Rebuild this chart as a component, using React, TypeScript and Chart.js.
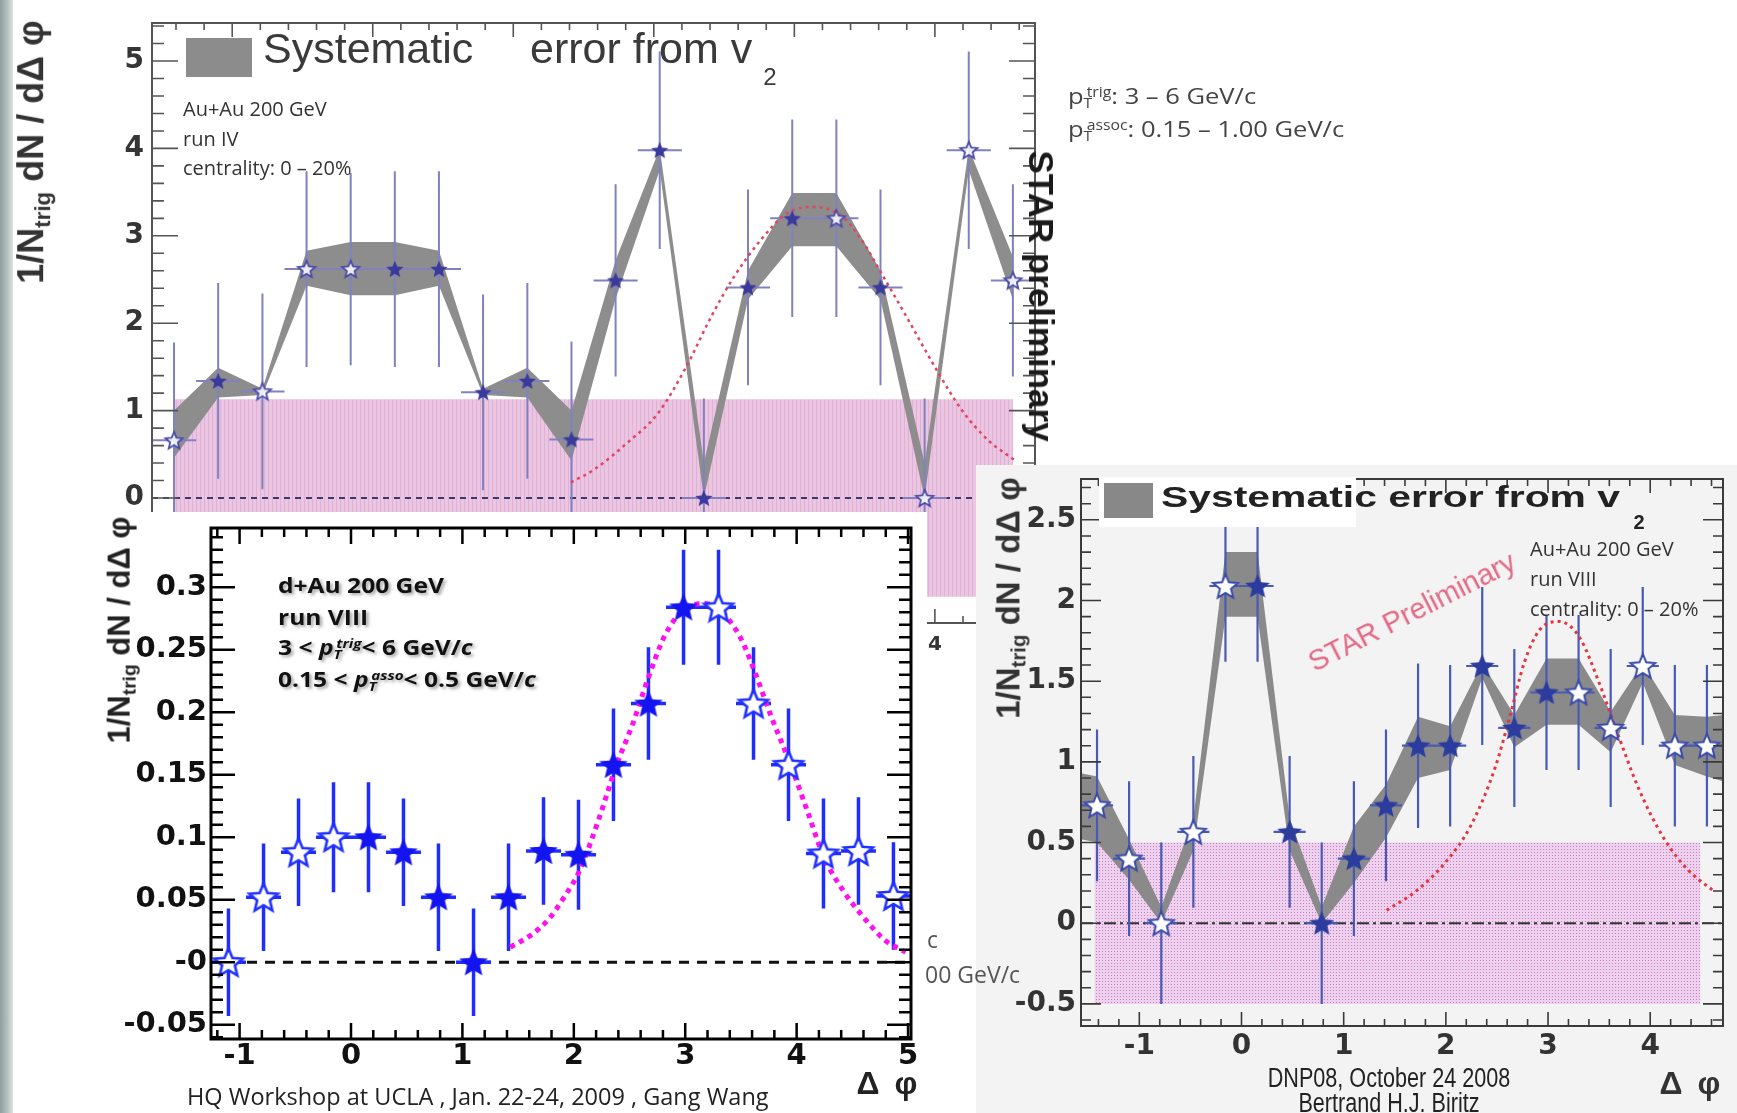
import React, { useEffect, useRef } from 'react';
import { Chart, registerables } from 'chart.js';

Chart.register(...registerables);

const PI = Math.PI;
const ARIAL = '"Liberation Sans", Arial, Helvetica, sans-serif';
const DEJAVU = '"DejaVu Sans", "Liberation Sans", sans-serif';
const OPEN = '"Open Sans", "Liberation Sans", sans-serif';

// ===== Panel 1: Au+Au 200 GeV, run IV, centrality 0-20% =====
const runIV_phi = [-1.414, -1.1, -0.785, -0.471, -0.157, 0.157, 0.471, 0.785, 1.1, 1.414, 1.728, 2.042, 2.356, 2.67, 2.985, 3.299, 3.613, 3.927, 4.241, 4.555];
const runIV_val = [0.66, 1.34, 1.22, 2.62, 2.62, 2.62, 2.62, 1.21, 1.34, 0.67, 2.49, 3.98, 0.0, 2.41, 3.2, 3.2, 2.41, 0.0, 3.98, 2.49];
const runIV_err = [1.12, 1.12, 1.12, 1.12, 1.1, 1.12, 1.12, 1.12, 1.12, 1.12, 1.1, 1.13, 1.14, 1.12, 1.13, 1.13, 1.12, 1.14, 1.13, 1.1];
const runIV_open = [1, 0, 1, 1, 1, 0, 0, 0, 0, 0, 0, 0, 0, 0, 0, 1, 0, 1, 1, 1];
const runIV_sysLo = [0.46, 1.15, 1.18, 2.43, 2.32, 2.32, 2.43, 1.18, 1.15, 0.43, 2.28, 3.75, 0.0, 2.27, 2.88, 2.88, 2.27, 0.0, 3.75, 2.27];
const runIV_sysHi = [1.0, 1.49, 1.25, 2.83, 2.93, 2.93, 2.83, 1.25, 1.49, 1.0, 2.72, 4.0, 0.4, 2.6, 3.49, 3.49, 2.6, 0.4, 4.0, 2.76];
const runIV_fitPhi = [1.41, 1.57, 1.81, 2.03, 2.23, 2.41, 2.57, 2.76, 2.95, 3.15, 3.34, 3.48, 3.62, 3.81, 4.0, 4.19, 4.38, 4.57];
const runIV_fitVal = [0.18, 0.32, 0.63, 0.97, 1.5, 2.08, 2.53, 2.95, 3.26, 3.33, 3.22, 2.95, 2.57, 2.04, 1.5, 1.01, 0.66, 0.43];
const runIV_pedPhi = [-1.414, 4.555];
const runIV_ped = [-1.13, 1.13];

// ===== Panel 2: d+Au 200 GeV, run VIII =====
const dAu_phi = [-1.1, -0.785, -0.471, -0.157, 0.157, 0.471, 0.785, 1.1, 1.414, 1.728, 2.042, 2.356, 2.67, 2.985, 3.299, 3.613, 3.927, 4.241, 4.555, 4.869];
const dAu_val = [0.0, 0.052, 0.088, 0.1, 0.1, 0.088, 0.052, 0.0, 0.052, 0.089, 0.086, 0.158, 0.207, 0.284, 0.284, 0.207, 0.158, 0.087, 0.089, 0.053];
const dAu_err = [0.043, 0.043, 0.043, 0.044, 0.044, 0.043, 0.043, 0.043, 0.043, 0.043, 0.044, 0.045, 0.045, 0.046, 0.046, 0.045, 0.045, 0.044, 0.043, 0.043];
const dAu_open = [1, 1, 1, 1, 0, 0, 0, 0, 0, 0, 0, 0, 0, 0, 1, 1, 1, 1, 1, 1];
const dAu_fitPhi = [1.43, 1.62, 1.78, 1.92, 2.05, 2.23, 2.38, 2.53, 2.67, 2.82, 3.0, 3.18, 3.32, 3.5, 3.63, 3.77, 3.95, 4.1, 4.24, 4.42, 4.6, 4.8, 4.98];
const dAu_fitVal = [0.012, 0.022, 0.035, 0.053, 0.073, 0.116, 0.157, 0.191, 0.228, 0.262, 0.283, 0.287, 0.281, 0.259, 0.231, 0.197, 0.157, 0.12, 0.085, 0.057, 0.036, 0.017, 0.008];

// ===== Panel 3: Au+Au 200 GeV, run VIII, centrality 0-20% =====
const runVIII_phi = [-1.414, -1.1, -0.785, -0.471, -0.157, 0.157, 0.471, 0.785, 1.1, 1.414, 1.728, 2.042, 2.356, 2.67, 2.985, 3.299, 3.613, 3.927, 4.241, 4.555];
const runVIII_val = [0.73, 0.4, 0.0, 0.566, 2.09, 2.09, 0.566, 0.0, 0.4, 0.73, 1.1, 1.1, 1.594, 1.21, 1.43, 1.43, 1.21, 1.594, 1.1, 1.1];
const runVIII_err = [0.47, 0.48, 0.5, 0.47, 0.47, 0.47, 0.47, 0.5, 0.48, 0.47, 0.51, 0.5, 0.49, 0.49, 0.48, 0.48, 0.49, 0.49, 0.5, 0.5];
const runVIII_open = [1, 1, 1, 1, 1, 0, 0, 0, 0, 0, 0, 0, 0, 0, 0, 1, 1, 1, 1, 1];
const runVIII_sysPhi = [-1.571, -1.414, -1.1, -0.785, -0.471, -0.157, 0.157, 0.471, 0.785, 1.1, 1.414, 1.728, 2.042, 2.356, 2.67, 2.985, 3.299, 3.613, 3.927, 4.241, 4.555, 4.712];
const runVIII_sysLo = [0.52, 0.5, 0.27, 0.0, 0.45, 1.9, 1.9, 0.45, 0.0, 0.25, 0.53, 0.9, 0.95, 1.52, 1.09, 1.23, 1.23, 1.06, 1.49, 0.98, 0.91, 0.88];
const runVIII_sysHi = [0.93, 0.91, 0.52, 0.1, 0.65, 2.3, 2.3, 0.65, 0.1, 0.6, 0.86, 1.28, 1.22, 1.61, 1.29, 1.64, 1.64, 1.31, 1.61, 1.29, 1.28, 1.29];
const runVIII_fitPhi = [1.42, 1.71, 2.0, 2.24, 2.48, 2.63, 2.77, 2.92, 3.11, 3.31, 3.5, 3.69, 3.89, 4.13, 4.37, 4.62];
const runVIII_fitVal = [0.08, 0.2, 0.38, 0.6, 0.96, 1.29, 1.62, 1.82, 1.87, 1.77, 1.49, 1.16, 0.83, 0.53, 0.33, 0.2];
const runVIII_pedPhi = [-1.44, 4.49];
const runVIII_ped = [-0.5, 0.5];

type Frame = {
  color: string; width: number; tickWidth: number;
  xMajor: number; xMinor: number; yMajor: number; yMinor: number;
  xMajLen: number; xMinLen: number; yMajLen: number; yMinLen: number;
};

function framePlugin(f: Frame) {
  return {
    id: 'rootFrame',
    afterDatasetsDraw(chart: any) {
      const { ctx, chartArea: a } = chart;
      const xs = chart.scales.x;
      const ys = chart.scales.y;
      const isMajor = (v: number, m: number) => Math.abs(v / m - Math.round(v / m)) < 1e-4;
      ctx.save();
      ctx.strokeStyle = f.color;
      ctx.lineWidth = f.tickWidth;
      ctx.beginPath();
      for (let n = Math.ceil(xs.min / f.xMinor - 1e-6); n * f.xMinor <= xs.max + 1e-9; n++) {
        const v = n * f.xMinor;
        const L = isMajor(v, f.xMajor) ? f.xMajLen : f.xMinLen;
        const p = xs.getPixelForValue(v);
        ctx.moveTo(p, a.bottom); ctx.lineTo(p, a.bottom - L);
        ctx.moveTo(p, a.top); ctx.lineTo(p, a.top + L);
      }
      for (let n = Math.ceil(ys.min / f.yMinor - 1e-6); n * f.yMinor <= ys.max + 1e-9; n++) {
        const v = n * f.yMinor;
        const L = isMajor(v, f.yMajor) ? f.yMajLen : f.yMinLen;
        const p = ys.getPixelForValue(v);
        ctx.moveTo(a.left, p); ctx.lineTo(a.left + L, p);
        ctx.moveTo(a.right, p); ctx.lineTo(a.right - L, p);
      }
      ctx.stroke();
      ctx.lineWidth = f.width;
      ctx.strokeRect(a.left, a.top, a.right - a.left, a.bottom - a.top);
      ctx.restore();
    },
  };
}

function makeStar(r: number, fill: string, stroke: string, lw: number): HTMLCanvasElement {
  const s = Math.ceil(2 * r + 2 * lw + 2);
  const c = document.createElement('canvas');
  c.width = s; c.height = s;
  const g = c.getContext('2d')!;
  g.translate(s / 2, s / 2 + r * 0.08);
  g.beginPath();
  for (let i = 0; i < 10; i++) {
    const rr = i % 2 === 0 ? r : r * 0.45;
    const ang = -PI / 2 + (i * PI) / 5;
    const px = rr * Math.cos(ang), py = rr * Math.sin(ang);
    if (i === 0) g.moveTo(px, py); else g.lineTo(px, py);
  }
  g.closePath();
  g.fillStyle = fill;
  g.fill();
  if (lw > 0) { g.lineWidth = lw; g.strokeStyle = stroke; g.stroke(); }
  return c;
}

function pedestalPattern(ctx: CanvasRenderingContext2D, kind: string) {
  const c = document.createElement('canvas');
  const g = c.getContext('2d')!;
  if (kind === 'lines') {
    c.width = 4; c.height = 4;
    g.fillStyle = '#ebc5e2'; g.fillRect(0, 0, 4, 4);
    g.fillStyle = '#e0b1d7'; g.fillRect(0, 0, 1, 4);
  } else {
    c.width = 3; c.height = 3;
    g.fillStyle = '#eed1ed'; g.fillRect(0, 0, 3, 3);
    g.fillStyle = '#c77cc7'; g.fillRect(0, 0, 1, 1);
  }
  return ctx.createPattern(c, 'repeat');
}

type Panel = {
  w: number; h: number; area: { left: number; top: number; right: number; bottom: number };
  x: [number, number]; y: [number, number]; xStep: number; yStep: number;
  phi: number[]; val: number[]; err: number[]; open: number[]; hw: number;
  sysPhi?: number[]; sysLo?: number[]; sysHi?: number[]; sysColor?: string;
  pedPhi: number[]; ped: number[]; pedKind: string;
  fitPhi: number[]; fitVal: number[]; fitColor: string; fitWidth: number; fitDash: number[];
  zeroColor: string; zeroWidth: number; zeroDash: number[];
  barColor: string; barWidth: number;
  star: { r: number; fill: string; openFill: string; openStroke: string; lw: number };
  yFont: number; xFont: number; tickColor: string; xPad: number; yPad: number;
  yLabel: (v: number) => string;
  frame: Frame;
};

function buildConfig(p: Panel, ctx: CanvasRenderingContext2D): any {
  const filled = makeStar(p.star.r, p.star.fill, p.star.fill, 0);
  const hollow = makeStar(p.star.r, p.star.openFill, p.star.openStroke, p.star.lw);
  const vbars: any[] = [];
  const hbars: any[] = [];
  p.phi.forEach((x, i) => {
    vbars.push({ x, y: p.val[i] - p.err[i] }, { x, y: p.val[i] + p.err[i] }, { x, y: null });
    hbars.push({ x: x - p.hw, y: p.val[i] }, { x: x + p.hw, y: p.val[i] }, { x: x + p.hw, y: null });
  });
  const base = { pointRadius: 0, pointHoverRadius: 0, spanGaps: false, fill: false, tension: 0 };
  const ds: any[] = [
    { ...base, label: 'filled', showLine: false, pointStyle: filled, pointRadius: p.star.r, order: 0,
      data: p.phi.map((x, i) => (p.open[i] ? null : { x, y: p.val[i] })).filter(Boolean) },
    { ...base, label: 'open', showLine: false, pointStyle: hollow, pointRadius: p.star.r, order: 0,
      data: p.phi.map((x, i) => (p.open[i] ? { x, y: p.val[i] } : null)).filter(Boolean) },
    { ...base, label: 'fit', data: p.fitPhi.map((x, i) => ({ x, y: p.fitVal[i] })), borderColor: p.fitColor,
      borderWidth: p.fitWidth, borderDash: p.fitDash, cubicInterpolationMode: 'monotone', order: 1 },
    { ...base, label: 'stat', data: vbars, borderColor: p.barColor, borderWidth: p.barWidth, order: 2 },
    { ...base, label: 'bin', data: hbars, borderColor: p.barColor, borderWidth: p.barWidth, order: 2 },
    { ...base, label: 'zero', data: [{ x: p.x[0], y: 0 }, { x: p.x[1], y: 0 }], borderColor: p.zeroColor,
      borderWidth: p.zeroWidth, borderDash: p.zeroDash, order: 3 },
  ];
  if (p.sysPhi && p.sysLo && p.sysHi) {
    ds.push(
      { ...base, label: 'sysHi', data: p.sysPhi.map((x, i) => ({ x, y: p.sysHi![i] })), borderWidth: 0,
        borderColor: 'rgba(0,0,0,0)', backgroundColor: p.sysColor, fill: '+1', order: 4 },
      { ...base, label: 'sysLo', data: p.sysPhi.map((x, i) => ({ x, y: p.sysLo![i] })), borderWidth: 0,
        borderColor: 'rgba(0,0,0,0)', order: 5 },
    );
  }
  ds.push({ ...base, label: 'pedestal', data: p.pedPhi.map((x) => ({ x, y: p.ped[1] })), borderWidth: 0,
    borderColor: 'rgba(0,0,0,0)', backgroundColor: pedestalPattern(ctx, p.pedKind), fill: { value: p.ped[0] }, order: 6 });

  const font = (size: number) => ({ family: DEJAVU, weight: 'bold', size });
  return {
    type: 'line',
    data: { datasets: ds },
    options: {
      responsive: false,
      animation: false,
      devicePixelRatio: 1,
      events: [],
      layout: { padding: { left: 0, top: p.area.top, right: p.w - p.area.right, bottom: 0 } },
      plugins: { legend: { display: false }, tooltip: { enabled: false }, title: { display: false } },
      scales: {
        x: {
          type: 'linear', min: p.x[0], max: p.x[1],
          afterFit: (s: any) => { s.height = p.h - p.area.bottom; s.paddingLeft = 0; s.paddingRight = 0; },
          grid: { display: false, drawTicks: false }, border: { display: false },
          ticks: { stepSize: p.xStep, includeBounds: false, autoSkip: false, maxRotation: 0, padding: p.xPad,
            font: font(p.xFont), color: p.tickColor, callback: (v: number) => String(Math.round(v)) },
        },
        y: {
          type: 'linear', min: p.y[0], max: p.y[1],
          afterFit: (s: any) => { s.width = p.area.left; s.paddingTop = 0; s.paddingBottom = 0; },
          grid: { display: false, drawTicks: false }, border: { display: false },
          ticks: { stepSize: p.yStep, includeBounds: false, autoSkip: false, padding: p.yPad,
            font: font(p.yFont), color: p.tickColor, callback: (v: number) => p.yLabel(v) },
        },
      },
    },
    plugins: [framePlugin(p.frame)],
  };
}

const fmt = (v: number) => String(+v.toFixed(3));

const panelIV: Panel = {
  w: 1100, h: 700, area: { left: 152, top: 23, right: 1035, bottom: 623 },
  x: [-PI / 2, 1.5 * PI], y: [-1.43, 5.435], xStep: 1, yStep: 1,
  phi: runIV_phi, val: runIV_val, err: runIV_err, open: runIV_open, hw: PI / 20,
  sysPhi: runIV_phi, sysLo: runIV_sysLo, sysHi: runIV_sysHi, sysColor: '#8d8d8d',
  pedPhi: runIV_pedPhi, ped: runIV_ped, pedKind: 'lines',
  fitPhi: runIV_fitPhi, fitVal: runIV_fitVal, fitColor: '#e0465e', fitWidth: 2.5, fitDash: [3, 4],
  zeroColor: '#3a3a6a', zeroWidth: 2.2, zeroDash: [6, 5],
  barColor: '#8181c0', barWidth: 2,
  star: { r: 9, fill: '#3a3a9c', openFill: 'rgba(255,255,255,0.85)', openStroke: '#4a4aa8', lw: 1.8 },
  yFont: 28, xFont: 20, tickColor: '#353535', xPad: 10, yPad: 8,
  yLabel: fmt,
  frame: { color: '#555', width: 2, tickWidth: 1.6, xMajor: 1, xMinor: 0.2, yMajor: 1, yMinor: 0.2,
    xMajLen: 14, xMinLen: 7, yMajLen: 26, yMinLen: 12 },
};

const panelDAu: Panel = {
  w: 887, h: 601, area: { left: 171, top: 6, right: 880, bottom: 527 },
  x: [-0.4 * PI, 1.6 * PI], y: [-0.0615, 0.3475], xStep: 1, yStep: 0.05,
  phi: dAu_phi, val: dAu_val, err: dAu_err, open: dAu_open, hw: PI / 20,
  pedPhi: [0, 0], ped: [0, 0], pedKind: 'none',
  fitPhi: dAu_fitPhi, fitVal: dAu_fitVal, fitColor: '#ff10f0', fitWidth: 5, fitDash: [5, 5],
  zeroColor: '#111', zeroWidth: 3, zeroDash: [10, 8],
  barColor: '#1f2dff', barWidth: 3.5,
  star: { r: 15, fill: '#1414f0', openFill: '#ffffff', openStroke: '#2030ff', lw: 2.6 },
  yFont: 29, xFont: 29, tickColor: '#111', xPad: 0, yPad: 4,
  yLabel: (v: number) => (Math.abs(v) < 1e-9 ? '-0' : fmt(v)),
  frame: { color: '#000', width: 3, tickWidth: 2.5, xMajor: 1, xMinor: 0.2, yMajor: 0.05, yMinor: 0.01,
    xMajLen: 16, xMinLen: 9, yMajLen: 24, yMinLen: 12 },
};

const panelVIII: Panel = {
  w: 761, h: 648, area: { left: 105, top: 5, right: 747, bottom: 561 },
  x: [-PI / 2, 1.5 * PI], y: [-0.637, 2.753], xStep: 1, yStep: 0.5,
  phi: runVIII_phi, val: runVIII_val, err: runVIII_err, open: runVIII_open, hw: PI / 20,
  sysPhi: runVIII_sysPhi, sysLo: runVIII_sysLo, sysHi: runVIII_sysHi, sysColor: '#8a8a8a',
  pedPhi: runVIII_pedPhi, ped: runVIII_ped, pedKind: 'dots',
  fitPhi: runVIII_fitPhi, fitVal: runVIII_fitVal, fitColor: '#e8323e', fitWidth: 3, fitDash: [3, 4],
  zeroColor: '#333', zeroWidth: 2, zeroDash: [12, 4, 3, 4],
  barColor: '#4a5ab4', barWidth: 2.2,
  star: { r: 13, fill: '#2b3c9e', openFill: '#ffffff', openStroke: '#3a4aa8', lw: 2 },
  yFont: 28, xFont: 28, tickColor: '#333', xPad: 4, yPad: 5,
  yLabel: fmt,
  frame: { color: '#3a3a3a', width: 2, tickWidth: 1.6, xMajor: 1, xMinor: 0.2, yMajor: 0.5, yMinor: 0.1,
    xMajLen: 14, xMinLen: 7, yMajLen: 20, yMinLen: 10 },
};

function PanelCanvas({ left, top, boxW, bg, panel, z }: { left: number; top: number; boxW?: number; bg?: string; panel: Panel; z: number }) {
  const ref = useRef<HTMLCanvasElement>(null);
  useEffect(() => {
    const c = ref.current!;
    const chart = new Chart(c, buildConfig(panel, c.getContext('2d')!));
    return () => chart.destroy();
  }, [panel]);
  return (
    <div style={{ position: 'absolute', left, top, width: boxW ?? panel.w, height: panel.h, background: bg, zIndex: z }}>
      <canvas ref={ref} width={panel.w} height={panel.h} style={{ display: 'block', width: panel.w, height: panel.h }} />
    </div>
  );
}

const txt = (s: React.CSSProperties): React.CSSProperties => ({ position: 'absolute', whiteSpace: 'nowrap', lineHeight: 1, zIndex: 10, ...s });

function PT({ sup, italic }: { sup: string; italic?: boolean }) {
  const st: React.CSSProperties = italic ? { fontStyle: 'italic' } : {};
  return (
    <span style={st}>
      p<sub style={{ fontSize: '0.62em', verticalAlign: '-0.32em' }}>T</sub>
      <sup style={{ fontSize: '0.62em', verticalAlign: '0.55em', marginLeft: '-0.36em' }}>{sup}</sup>
    </span>
  );
}

function YTitle({ cx, cy, size, color }: { cx: number; cy: number; size: number; color: string }) {
  return (
    <div style={txt({ left: cx, top: cy, transform: 'translate(-50%,-50%) rotate(-90deg)', font: `bold ${size}px ${ARIAL}`, color })}>
      1/N<sub style={{ fontSize: '0.62em', verticalAlign: '-0.3em' }}>trig</sub> dN / dΔ φ
    </div>
  );
}

export default function App() {
  useEffect(() => {
    document.body.style.margin = '0';
    document.body.style.overflow = 'hidden';
  }, []);
  const leftMid = (l: number, t: number, extra: React.CSSProperties) =>
    txt({ left: l, top: t, transform: 'translateY(-50%)', ...extra });
  return (
    <div style={{ position: 'absolute', left: 0, top: 0, width: 1737, height: 1113, background: '#fff', overflow: 'hidden' }}>
      <PanelCanvas left={0} top={0} panel={panelIV} z={1} />
      <PanelCanvas left={976} top={465} bg="#f3f3f3" panel={panelVIII} z={2} />
      <PanelCanvas left={40} top={512} boxW={887} bg="#ffffff" panel={panelDAu} z={3} />
      <div style={{ position: 'absolute', left: 0, top: 0, width: 13, height: 1113, zIndex: 9,
        background: 'linear-gradient(90deg, #8e9f9f 0%, #b3bfbe 55%, #dfe5e4 100%)' }} />

      {/* Panel 1 annotations */}
      <YTitle cx={33} cy={152} size={36} color="#333" />
      <div style={txt({ left: 186, top: 38, width: 66, height: 39, background: '#8c8c8c' })} />
      <div style={leftMid(263, 48, { font: `43px ${ARIAL}`, color: '#3a3a3a' })}>Systematic</div>
      <div style={leftMid(530, 48, { font: `43px ${ARIAL}`, color: '#3a3a3a' })}>error from v</div>
      <div style={txt({ left: 770, top: 77, transform: 'translate(-50%,-50%)', font: `24px ${ARIAL}`, color: '#3a3a3a' })}>2</div>
      <div style={leftMid(183, 108, { font: `20px ${OPEN}`, color: '#333' })}>Au+Au 200 GeV</div>
      <div style={leftMid(183, 138, { font: `20px ${OPEN}`, color: '#333' })}>run IV</div>
      <div style={leftMid(183, 167, { font: `20px ${OPEN}`, color: '#333' })}>centrality: 0 – 20%</div>
      <div style={txt({ left: 1068, top: 96, transform: 'translateY(-50%) scaleX(1.16)', transformOrigin: 'left center', font: `22px ${OPEN}`, color: '#444' })}>
        <PT sup="trig" />: 3 – 6 GeV/c
      </div>
      <div style={txt({ left: 1068, top: 129, transform: 'translateY(-50%) scaleX(1.16)', transformOrigin: 'left center', font: `22px ${OPEN}`, color: '#444' })}>
        <PT sup="assoc" />: 0.15 – 1.00 GeV/c
      </div>
      <div style={txt({ left: 1041, top: 296, transform: 'translate(-50%,-50%) rotate(90deg)', font: `bold 35px ${ARIAL}`, color: '#1a1a1a' })}>STAR preliminary</div>

      {/* Panel 2 annotations */}
      <YTitle cx={121} cy={630} size={31} color="#222" />
      {[
        <>d+Au 200 GeV</>,
        <>run VIII</>,
        <>3 &lt; <PT sup="trig" italic />&lt; 6 GeV/<i>c</i></>,
        <>0.15 &lt; <PT sup="asso" italic />&lt; 0.5 GeV/<i>c</i></>,
      ].map((el, i) => (
        <div key={i} style={txt({ left: 278, top: [585, 617, 648, 680][i], transform: 'translateY(-50%) scaleX(1.17)', transformOrigin: 'left center',
          font: `bold 21px ${OPEN}`, color: '#111', textShadow: '2px 2px 3px rgba(0,0,0,0.35)' })}>{el}</div>
      ))}
      <div style={txt({ left: 887, top: 1083, transform: 'translate(-50%,-50%)', font: `bold 32px ${ARIAL}`, color: '#222', wordSpacing: 6 })}>Δ φ</div>
      <div style={leftMid(187, 1096, { font: `23.5px ${OPEN}`, color: '#222' })}>HQ Workshop at UCLA , Jan. 22-24, 2009 , Gang Wang</div>
      <div style={leftMid(927, 939, { font: `23px ${OPEN}`, color: '#555' })}>c</div>
      <div style={leftMid(925, 974, { font: `23px ${OPEN}`, color: '#555' })}>00 GeV/c</div>

      {/* Panel 3 annotations */}
      <div style={txt({ left: 1099, top: 477, width: 257, height: 50, background: '#ffffff', zIndex: 5 })} />
      <div style={txt({ left: 1104, top: 483, width: 49, height: 35, background: '#888' })} />
      <div style={txt({ left: 1161, top: 497, transform: 'translateY(-50%) scaleX(1.41)', transformOrigin: 'left center', font: `bold 29px ${ARIAL}`, color: '#222' })}>Systematic error from v</div>
      <div style={txt({ left: 1639, top: 522, transform: 'translate(-50%,-50%)', font: `bold 20px ${ARIAL}`, color: '#222' })}>2</div>
      <div style={txt({ left: 1412, top: 612, transform: 'translate(-50%,-50%) rotate(-27deg)', font: `29px ${ARIAL}`, color: '#e26a88' })}>STAR Preliminary</div>
      <div style={leftMid(1530, 548, { font: `20px ${OPEN}`, color: '#333' })}>Au+Au 200 GeV</div>
      <div style={leftMid(1530, 578, { font: `20px ${OPEN}`, color: '#333' })}>run VIII</div>
      <div style={leftMid(1530, 608, { font: `20px ${OPEN}`, color: '#333' })}>centrality: 0 – 20%</div>
      <YTitle cx={1010} cy={598} size={33} color="#333" />
      <div style={txt({ left: 1690, top: 1083, transform: 'translate(-50%,-50%)', font: `bold 32px ${ARIAL}`, color: '#333', wordSpacing: 6 })}>Δ φ</div>
      <div style={txt({ left: 1389, top: 1078, transform: 'translate(-50%,-50%) scaleX(0.8)', font: `27px ${ARIAL}`, color: '#222' })}>DNP08, October 24 2008</div>
      <div style={txt({ left: 1389, top: 1103, transform: 'translate(-50%,-50%) scaleX(0.8)', font: `27px ${ARIAL}`, color: '#222' })}>Bertrand H.J. Biritz</div>
    </div>
  );
}
